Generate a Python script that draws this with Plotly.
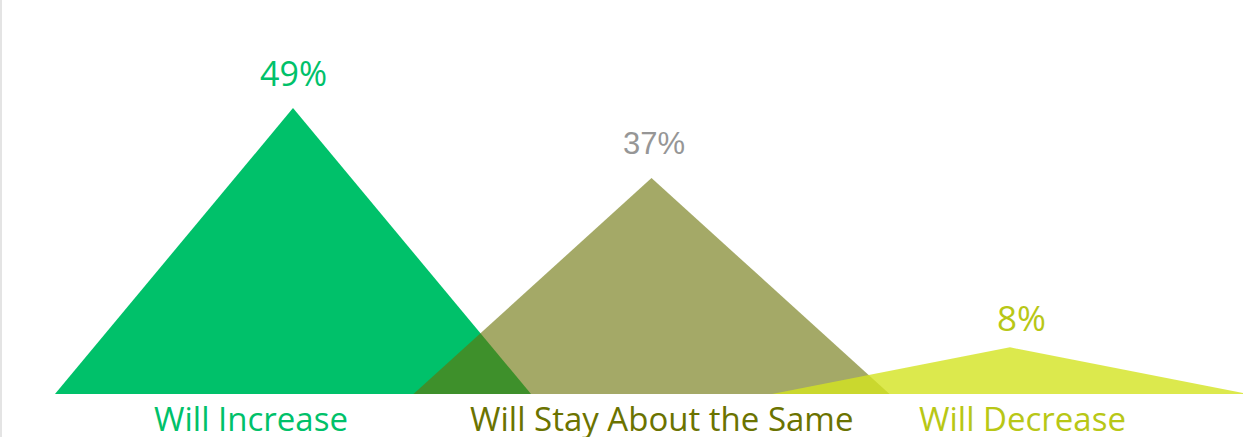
import plotly.graph_objects as go

# Survey outlook shares, one triangle per answer
categories = ["Will Increase", "Will Stay About the Same", "Will Decrease"]
values = [49, 37, 8]
value_labels = ["49%", "37%", "8%"]

fill_colors = ["rgb(0,193,106)", "rgba(104,111,2,0.6)", "rgba(211,228,32,0.8)"]
value_colors = ["rgb(0,193,106)", "rgb(150,150,150)", "rgb(184,199,22)"]
category_colors = ["rgb(0,193,106)", "rgb(107,115,0)", "rgb(184,199,22)"]
value_fonts = ["Open Sans", "Liberation Sans", "Open Sans"]
value_sizes = [34, 31, 35]
value_yshift = [10, 15, 4]
value_xshift = [0, 2, 11]
category_shift = [-42, 10, 12]

HALF_WIDTH = 0.664  # half of each triangle's base, in category units

fig = go.Figure()
for i, (cat, v) in enumerate(zip(categories, values)):
    fig.add_trace(go.Scatter(
        x=[i - HALF_WIDTH, i, i + HALF_WIDTH, i - HALF_WIDTH],
        y=[0, v, 0, 0],
        mode="lines",
        fill="toself",
        fillcolor=fill_colors[i],
        line=dict(width=0),
        hoverinfo="skip",
        showlegend=False,
        name=cat,
    ))
    fig.add_annotation(
        x=i, y=v, text=value_labels[i], showarrow=False,
        xanchor="center", yanchor="bottom",
        yshift=value_yshift[i], xshift=value_xshift[i],
        font=dict(family=value_fonts[i], size=value_sizes[i], color=value_colors[i]),
    )
    fig.add_annotation(
        x=i, y=0, text=cat, showarrow=False,
        xanchor="center", yanchor="top", yshift=0, xshift=category_shift[i],
        font=dict(family="Open Sans", size=33, color=category_colors[i]),
    )

# thin frame line on the left edge
fig.add_shape(type="line", xref="paper", yref="paper", x0=0.0008, x1=0.0008, y0=0, y1=1,
              line=dict(color="rgb(228,228,228)", width=2))

fig.update_layout(
    width=1243, height=437,
    margin=dict(l=0, r=0, t=0, b=0),
    paper_bgcolor="white", plot_bgcolor="white",
    xaxis=dict(range=[-0.8173, 2.6499], visible=False, fixedrange=True),
    yaxis=dict(range=[-7.37, 67.52], visible=False, fixedrange=True),
)

fig.write_html("out.html")
